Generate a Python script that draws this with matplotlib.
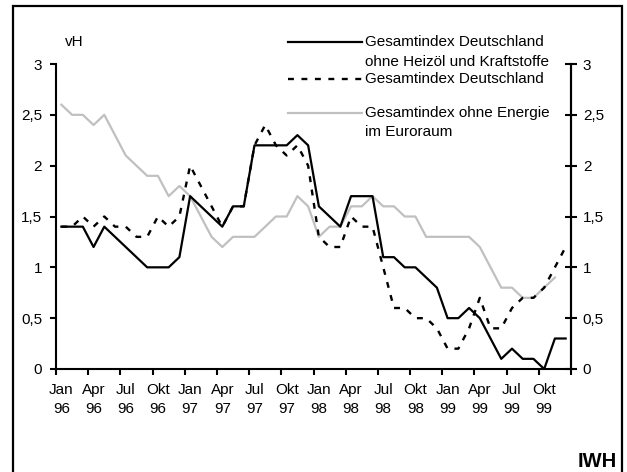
import numpy as np
import matplotlib
matplotlib.use('Agg')
import matplotlib.pyplot as plt
from matplotlib.patches import Rectangle
from matplotlib.lines import Line2D

plt.rcParams['font.family'] = ['Liberation Sans', 'DejaVu Sans']

# Monatswerte Jan 96 .. Dez 99, Veraenderung gegenueber Vorjahr in vH
ohne_heizoel = [1.4, 1.4, 1.4, 1.2, 1.4, 1.3, 1.2, 1.1, 1.0, 1.0, 1.0, 1.1,
                1.7, 1.6, 1.5, 1.4, 1.6, 1.6, 2.2, 2.2, 2.2, 2.2, 2.3, 2.2,
                1.6, 1.5, 1.4, 1.7, 1.7, 1.7, 1.1, 1.1, 1.0, 1.0, 0.9, 0.8,
                0.5, 0.5, 0.6, 0.5, 0.3, 0.1, 0.2, 0.1, 0.1, 0.0, 0.3, 0.3]
gesamt_de = [1.4, 1.4, 1.5, 1.4, 1.5, 1.4, 1.4, 1.3, 1.3, 1.5, 1.4, 1.5,
             2.0, 1.8, 1.6, 1.4, 1.6, 1.6, 2.2, 2.4, 2.2, 2.1, 2.2, 2.0,
             1.3, 1.2, 1.2, 1.5, 1.4, 1.4, 1.0, 0.6, 0.6, 0.5, 0.5, 0.4,
             0.2, 0.2, 0.4, 0.7, 0.4, 0.4, 0.6, 0.7, 0.7, 0.8, 1.0, 1.2]
euro_ohne_energie = [2.6, 2.5, 2.5, 2.4, 2.5, 2.3, 2.1, 2.0, 1.9, 1.9, 1.7, 1.8,
                     1.7, 1.5, 1.3, 1.2, 1.3, 1.3, 1.3, 1.4, 1.5, 1.5, 1.7, 1.6,
                     1.3, 1.4, 1.4, 1.6, 1.6, 1.7, 1.6, 1.6, 1.5, 1.5, 1.3, 1.3,
                     1.3, 1.3, 1.3, 1.2, 1.0, 0.8, 0.8, 0.7, 0.7, 0.8, 0.9, np.nan]

monate = ['Jan', 'Apr', 'Jul', 'Okt']
jahre = ['96', '97', '98', '99']
xlabels = [m + '\n' + j for j in jahre for m in monate]
ytick_vals = [0, 0.5, 1, 1.5, 2, 2.5, 3]
ytick_labels = ['0', '0,5', '1', '1,5', '2', '2,5', '3']

x = np.arange(len(ohne_heizoel))

W, H = 627, 472
fig = plt.figure(figsize=(W / 100, H / 100), dpi=100)
ax = fig.add_axes([56 / W, 1 - 369 / H, (571 - 56) / W, (369 - 64) / H])

ax.plot(x, euro_ohne_energie, color='#c0c0c0', lw=1.6, zorder=2)
ax.plot(x, gesamt_de, color='black', lw=1.7, linestyle=(0, (2.5, 3.2)), zorder=3)
ax.plot(x, ohne_heizoel, color='black', lw=1.6, zorder=4)

ax.set_xlim(-0.5, len(x) - 0.5)
ax.set_ylim(0, 3)

for s in ['top']:
    ax.spines[s].set_visible(False)
for s in ['left', 'bottom', 'right']:
    ax.spines[s].set_linewidth(1.5)

# Striche an den Quartalsgrenzen, Beschriftung in der Mitte des Monats
ax.set_xticks(np.arange(-0.5, len(x), 3))
ax.set_xticklabels([])
ax.set_xticks(np.arange(0, len(x), 3), minor=True)
ax.set_xticklabels(xlabels, minor=True, fontsize=11, linespacing=1.45)
ax.tick_params(axis='x', which='major', direction='out', length=4, width=1.5)
ax.tick_params(axis='x', which='minor', length=0, pad=10)

ax.set_yticks(ytick_vals)
ax.set_yticklabels(ytick_labels, fontsize=11)
ax.tick_params(axis='y', direction='out', length=4, width=1.5, pad=6)

ax2 = ax.twinx()
ax2.set_ylim(0, 3)
ax2.set_yticks(ytick_vals)
ax2.set_yticklabels(ytick_labels, fontsize=11)
ax2.tick_params(axis='y', direction='inout', length=9, width=1.5, pad=4)
for s in ['top', 'left', 'bottom']:
    ax2.spines[s].set_visible(False)
ax2.spines['right'].set_linewidth(1.5)

def fx(px):
    return px / W

def fy(py):
    return 1 - py / H

fig.text(fx(65), fy(42), 'vH', fontsize=11, va='center', ha='left')

# Legende
fig.add_artist(Line2D([fx(288), fx(362)], [fy(41.5), fy(41.5)], color='black', lw=1.6))
fig.add_artist(Line2D([fx(288), fx(362)], [fy(79), fy(79)], color='black', lw=1.7,
                      linestyle=(0, (2.5, 3.2))))
fig.add_artist(Line2D([fx(288), fx(362)], [fy(113), fy(113)], color='#c0c0c0', lw=1.6))
fig.text(fx(365), fy(42), 'Gesamtindex Deutschland', fontsize=11, va='center')
fig.text(fx(365), fy(61.5), 'ohne Heizöl und Kraftstoffe', fontsize=11, va='center')
fig.text(fx(365), fy(79), 'Gesamtindex Deutschland', fontsize=11, va='center')
fig.text(fx(365), fy(113), 'Gesamtindex ohne Energie', fontsize=11, va='center')
fig.text(fx(365), fy(131.5), 'im Euroraum', fontsize=11, va='center')

fig.text(fx(617), fy(467), 'IWH', fontsize=14.5, fontweight='bold', ha='right', va='baseline')

# Rahmen
fig.add_artist(Rectangle((fx(12.5), fy(480)), fx(622) - fx(12.5), fy(5.5) - fy(480),
                         fill=False, edgecolor='black', lw=1.6, transform=fig.transFigure))

fig.savefig('out.png', dpi=100)
